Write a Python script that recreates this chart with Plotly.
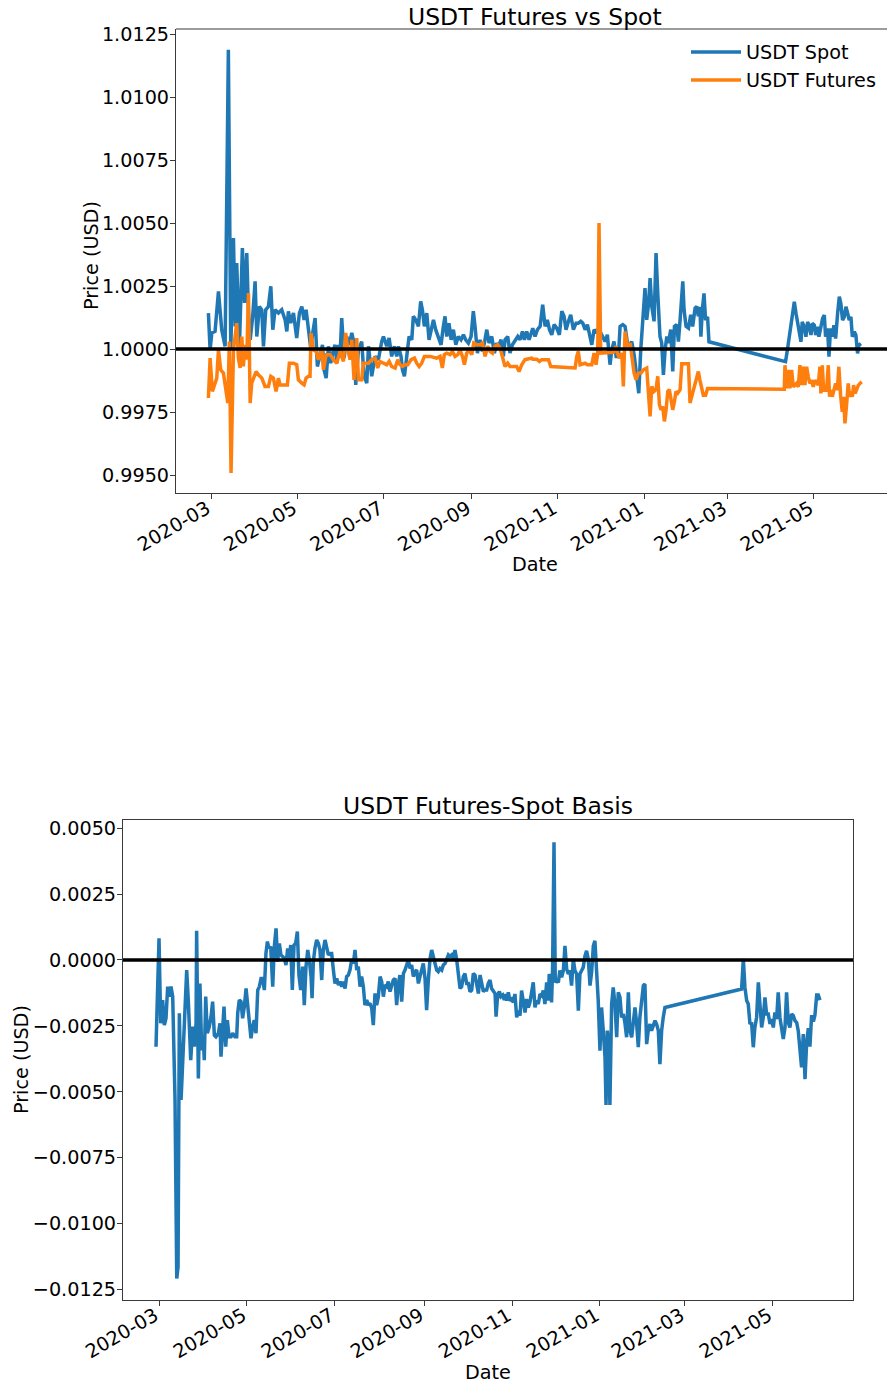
import pandas as pd
import plotly.graph_objects as go

# ---------------- data (day offset from 2020-03-01, value) ----------------
BASE_DATE = "2020-03-01"

spot = [
(-1.9,1.00143),(-0.7,0.99997),(0.5,1.00064),(2.8,1.00070),(5.2,1.00229),(7.5,1.00077),(9.9,1.00011),(12.2,1.01188),
(13.9,0.99997),(15.8,1.00441),(17.0,1.00090),(18.1,1.00341),(20.0,1.00011),(22.1,1.00401),(23.6,1.00183),(25.2,1.00381),
(26.4,1.00143),(27.6,1.00037),(29.4,1.00130),(31.1,1.00269),(32.3,1.00050),(34.1,1.00169),(35.8,1.00156),(37.0,1.00011),
(38.6,1.00156),(40.5,1.00169),(42.2,1.00249),(43.6,1.00077),(45.2,1.00156),(47.6,1.00143),(49.9,1.00156),(52.3,1.00116),
(53.5,1.00070),(54.6,1.00150),(56.3,1.00103),(58.2,1.00143),(60.5,1.00044),(62.4,1.00143),(64.1,1.00169),(65.7,1.00116),
(67.1,1.00156),(68.8,1.00064),(70.4,1.00004),(71.8,1.00064),(73.5,1.00123),(75.1,0.99931),(77.0,0.99984),(78.7,1.00017),
(79.8,0.99918),(81.3,0.99885),(82.9,1.00011),(84.5,0.99944),(86.4,0.99997),(87.6,1.00017),(88.8,0.99944),(90.0,1.00017),
(91.1,0.99971),(92.3,1.00123),(94.0,0.99964),(95.8,1.00050),(97.7,1.00017),(99.4,1.00064),(101.0,1.00024),(102.2,0.99858),
(104.1,0.99997),(106.4,1.00030),(108.1,0.99892),(110.0,0.99865),(111.2,1.00011),(113.5,0.99892),(115.9,0.99971),(118.2,0.99958),
(120.6,1.00030),(121.8,1.00050),(124.1,1.00011),(125.8,1.00044),(127.6,0.99971),(129.5,1.00011),(131.2,0.99971),(132.4,1.00011),
(134.2,0.99971),(135.2,0.99918),(136.6,0.99892),(138.2,0.99971),(139.9,1.00050),(141.8,1.00037),(142.9,1.00130),(144.6,1.00116),
(146.5,1.00090),(148.1,1.00189),(149.3,1.00156),(150.7,1.00090),(152.4,1.00143),(154.0,1.00037),(155.4,1.00077),(157.1,1.00116),
(158.7,1.00077),(160.6,1.00050),(162.5,1.00017),(164.1,1.00090),(165.3,1.00130),(166.5,1.00050),(168.1,1.00103),(169.6,1.00037),
(171.2,1.00077),(172.9,1.00017),(174.7,1.00050),(176.6,1.00037),(178.3,1.00057),(179.9,1.00037),(181.8,1.00024),(183.7,1.00050),
(185.3,1.00150),(186.5,1.00090),(188.2,0.99984),(190.0,1.00037),(191.7,0.99991),(193.1,1.00024),(194.8,1.00077),(196.4,1.00024),
(198.3,1.00050),(200.2,0.99984),(201.8,1.00024),(203.0,1.00011),(204.9,1.00037),(206.5,0.99971),(207.7,1.00037),(209.6,1.00050),
(211.2,0.99984),(212.9,1.00017),(214.8,1.00037),(216.7,1.00050),(218.3,1.00037),(220.0,1.00070),(221.4,1.00037),(223.0,1.00070),
(224.7,1.00037),(226.5,1.00077),(227.3,1.00083),(228.9,1.00050),(230.6,1.00077),(232.5,1.00090),(234.3,1.00176),(236.0,1.00090),
(237.6,1.00116),(239.1,1.00077),(240.7,1.00057),(242.4,1.00097),(244.2,1.00083),(246.1,1.00057),(247.8,1.00150),(249.4,1.00130),
(250.8,1.00077),(252.5,1.00110),(254.1,1.00136),(256.0,1.00077),(257.9,1.00103),(259.5,1.00103),(261.2,1.00110),(262.6,1.00103),
(264.3,1.00077),(265.9,1.00097),(267.3,1.00064),(269.0,1.00017),(270.6,1.00077),(272.5,1.00064),(273.7,1.00083),(275.3,1.00064),
(276.7,1.00050),(278.4,1.00030),(280.0,1.00057),(281.9,0.99938),(283.1,0.99997),(284.7,1.00030),(286.2,0.99971),(287.8,0.99971),
(289.0,1.00090),(290.9,1.00097),(292.5,1.00090),(294.2,1.00024),(295.6,1.00011),(297.2,1.00030),(298.9,0.99978),(300.8,0.99885),
(302.2,0.99825),(303.6,0.99997),(305.0,1.00103),(306.6,1.00242),(307.8,1.00116),(309.2,1.00183),(310.2,1.00282),(311.4,1.00169),
(313.0,1.00110),(314.4,1.00381),(315.6,1.00222),(317.2,1.00050),(318.4,1.00024),(319.6,0.99898),(320.8,0.99997),(322.0,1.00050),
(323.1,1.00024),(324.8,1.00077),(326.2,0.99911),(327.4,1.00090),(329.0,1.00097),(330.2,1.00030),(331.4,1.00116),(333.3,1.00269),
(334.2,1.00156),(335.6,1.00090),(337.3,1.00083),(338.9,1.00136),(340.3,1.00090),(342.0,1.00163),(343.2,1.00169),(344.3,1.00130),
(345.4,1.00168),(346.1,1.00049),(347.1,1.00155),(348.3,1.00221),(349.4,1.00115),(350.8,1.00128),(351.8,1.00029),(405.9,0.99950),
(407.4,1.00003),(409.0,1.00075),(410.7,1.00128),(412.1,1.00188),(413.3,1.00142),(414.4,1.00108),(415.4,1.00062),(416.8,1.00029),
(417.7,1.00108),(419.1,1.00089),(420.3,1.00049),(421.5,1.00108),(422.4,1.00095),(423.9,1.00056),(424.8,1.00102),(426.2,1.00095),
(427.2,1.00056),(428.6,1.00089),(429.5,1.00049),(430.9,1.00095),(432.1,1.00122),(433.3,1.00135),(434.2,1.00049),(435.6,1.00082),
(436.6,0.99970),(437.7,1.00082),(438.9,1.00049),(440.1,1.00095),(441.3,1.00042),(442.7,1.00142),(443.9,1.00208),(445.0,1.00181),
(446.2,1.00115),(447.4,1.00128),(448.6,1.00168),(449.8,1.00142),(450.9,1.00115),(452.1,1.00128),(453.1,1.00049),(454.5,1.00069),
(455.6,1.00056),(456.8,0.99983),(457.8,1.00016),(459.2,1.00022),
]

futures = [
(-1.9,0.99806),(-0.7,0.99964),(0.9,0.99832),(2.8,0.99865),(4.0,0.99885),(5.2,0.99997),(6.8,0.99918),(8.7,0.99905),
(10.6,0.99839),(11.8,0.99786),(12.9,1.00030),(14.1,0.99508),(15.8,0.99997),(18.1,1.00103),(19.3,0.99964),(20.5,0.99925),
(21.7,1.00050),(22.8,0.99931),(24.0,1.00017),(25.2,0.99958),(26.4,1.00222),(27.6,0.99786),(28.7,0.99865),(29.9,0.99885),
(31.8,0.99911),(33.4,0.99898),(35.8,0.99885),(38.1,0.99852),(40.5,0.99852),(42.2,0.99892),(44.0,0.99885),(45.9,0.99832),
(47.6,0.99885),(48.7,0.99858),(51.1,0.99858),(53.9,0.99858),(55.3,0.99944),(58.2,0.99944),(60.5,0.99938),(61.7,0.99878),
(64.1,0.99865),(65.7,0.99858),(67.1,0.99885),(68.8,0.99892),(69.9,0.99892),(70.6,1.00064),(72.3,0.99997),(74.2,0.99991),
(75.8,0.99958),(78.2,0.99997),(79.4,0.99918),(81.3,0.99978),(84.1,0.99978),(86.4,0.99958),(88.8,0.99944),(91.1,0.99991),
(93.5,0.99951),(95.1,1.00064),(96.6,0.99997),(98.2,0.99958),(99.4,1.00037),(101.0,0.99878),(102.9,1.00044),(104.1,0.99878),
(106.4,0.99878),(107.6,0.99944),(110.0,0.99944),(111.2,0.99944),(113.5,0.99958),(115.9,0.99964),(117.7,0.99925),(119.4,0.99951),
(121.8,0.99944),(124.1,0.99938),(125.8,0.99951),(127.6,0.99931),(130.0,0.99925),(131.9,0.99958),(133.5,0.99938),(135.2,0.99931),
(137.1,0.99938),(138.9,0.99938),(141.3,0.99958),(143.7,0.99964),(145.3,0.99944),(147.0,0.99931),(148.8,0.99944),(150.7,0.99971),
(154.7,0.99971),(159.4,0.99964),(161.8,0.99971),(163.4,0.99925),(164.8,0.99978),(166.5,0.99984),(168.9,0.99978),(170.5,0.99991),
(172.4,0.99971),(174.3,0.99978),(175.9,0.99997),(177.6,0.99971),(179.0,0.99938),(180.6,0.99984),(182.3,0.99997),(184.2,0.99978),
(185.6,1.00024),(187.7,1.00017),(190.0,1.00017),(191.7,1.00024),(193.6,0.99971),(195.5,1.00011),(197.1,0.99991),(198.8,0.99984),
(200.6,1.00011),(202.5,1.00017),(204.2,1.00004),(205.4,0.99978),(206.5,0.99951),(207.7,0.99931),(209.6,0.99944),(211.2,0.99931),
(215.9,0.99931),(217.6,0.99911),(219.5,0.99938),(221.8,0.99958),(226.5,0.99964),(227.3,0.99960),(230.1,0.99960),(232.0,0.99951),
(233.6,0.99958),(238.4,0.99958),(240.0,0.99931),(257.2,0.99925),(258.4,0.99971),(259.5,0.99991),(260.7,0.99938),(264.3,0.99944),
(265.9,0.99938),(269.0,0.99938),(270.6,0.99984),(272.0,0.99938),(273.2,0.99984),(274.1,1.00500),(275.3,0.99984),(284.3,0.99987),
(286.2,1.00011),(287.1,0.99984),(288.5,0.99964),(290.2,0.99984),(291.3,0.99852),(292.5,1.00070),(293.7,1.00030),(294.9,0.99997),
(296.1,1.00024),(297.2,0.99984),(298.9,0.99905),(300.3,0.99878),(301.9,0.99905),(303.8,0.99905),(305.5,0.99918),(307.8,0.99925),
(309.0,0.99832),(310.2,0.99733),(311.4,0.99852),(313.0,0.99832),(314.4,0.99839),(315.6,0.99892),(316.8,0.99779),(317.9,0.99759),
(319.1,0.99772),(320.3,0.99713),(321.5,0.99759),(322.7,0.99832),(323.8,0.99839),(325.0,0.99799),(326.2,0.99759),(327.4,0.99792),
(328.5,0.99832),(329.7,0.99825),(331.4,0.99839),(332.6,0.99942),(337.3,0.99942),(338.4,0.99786),(339.6,0.99812),(340.8,0.99832),
(342.0,0.99858),(344.3,0.99911),(345.4,0.99877),(346.6,0.99837),(347.8,0.99817),(349.4,0.99817),(350.8,0.99844),(405.0,0.99841),
(405.5,0.99936),(406.7,0.99844),(407.8,0.99917),(409.0,0.99844),(410.2,0.99917),(411.4,0.99850),(413.7,0.99864),(414.9,0.99850),
(416.1,0.99936),(417.3,0.99857),(418.4,0.99930),(419.6,0.99857),(420.8,0.99930),(422.0,0.99890),(423.1,0.99864),(424.3,0.99877),
(425.5,0.99850),(426.7,0.99877),(429.0,0.99857),(430.2,0.99930),(430.9,0.99824),(431.9,0.99936),(432.8,0.99837),(434.9,0.99837),
(436.1,0.99936),(437.0,0.99811),(438.0,0.99837),(438.9,0.99811),(440.3,0.99837),(441.3,0.99864),(442.5,0.99837),(443.6,0.99930),
(444.8,0.99817),(446.0,0.99751),(446.9,0.99811),(447.9,0.99705),(449.1,0.99784),(450.2,0.99864),(451.2,0.99811),(452.1,0.99831),
(453.1,0.99811),(454.0,0.99857),(455.1,0.99824),(456.2,0.99844),(457.4,0.99857),(459.7,0.99870),
]

basis = [
(-2.1,-0.00329),(0.0,0.00082),(1.15,-0.00240),(2.5,-0.00152),(3.7,-0.00247),(4.85,-0.00221),(6.0,-0.00101),(7.2,-0.00139),
(8.3,-0.00101),(9.5,-0.00139),(11.1,-0.00531),(12.3,-0.01208),(13.2,-0.01164),(14.1,-0.00202),(15.3,-0.00531),(16.4,-0.00380),
(17.8,-0.00215),(19.2,-0.00038),(20.3,-0.00152),(22.0,-0.00380),(23.4,-0.00253),(24.5,-0.00329),(25.7,-0.00240),(26.1,0.00111),
(27.3,-0.00449),(28.4,-0.00089),(29.6,-0.00342),(30.8,-0.00304),(31.4,-0.00380),(32.4,-0.00139),(33.5,-0.00278),(34.9,-0.00253),
(36.1,-0.00215),(37.2,-0.00158),(38.4,-0.00285),(39.5,-0.00291),(41.2,-0.00278),(42.3,-0.00240),(43.0,-0.00367),(44.2,-0.00253),
(45.1,-0.00177),(46.3,-0.00329),(47.4,-0.00228),(48.6,-0.00291),(50.0,-0.00291),(51.1,-0.00278),(52.7,-0.00291),(53.9,-0.00291),
(54.6,-0.00202),(55.7,-0.00152),(56.9,-0.00158),(58.0,-0.00221),(59.2,-0.00177),(60.4,-0.00108),(61.5,-0.00164),(62.7,-0.00228),
(63.8,-0.00297),(65.0,-0.00253),(66.1,-0.00228),(67.3,-0.00278),(68.5,-0.00114),(69.6,-0.00101),(70.8,-0.00070),(71.9,-0.00070),
(73.1,-0.00114),(74.2,0.00025),(75.2,0.00070),(76.3,0.00044),(77.5,0.00051),(78.9,-0.00101),(80.0,0.00051),(81.2,0.00120),
(82.3,-0.00006),(83.5,0.00063),(84.6,0.00019),(85.8,0.00013),(87.0,0.00006),(88.1,-0.00019),(89.3,0.00044),(90.4,0.00000),
(91.4,0.00057),(92.5,-0.00114),(93.7,0.00057),(94.8,0.00063),(96.0,0.00108),(97.1,-0.00057),(98.3,-0.00114),(99.7,-0.00025),
(100.8,-0.00171),(102.0,-0.00025),(103.2,0.00038),(104.3,0.00000),(105.5,-0.00063),(106.2,-0.00145),(107.1,-0.00006),(108.2,0.00044),
(109.4,0.00076),(110.6,0.00063),(111.7,0.00038),(112.9,-0.00076),(114.0,0.00038),(115.2,0.00076),(116.3,0.00051),(117.5,0.00019),
(118.6,0.00025),(119.8,0.00025),(121.0,-0.00038),(122.1,-0.00089),(123.3,-0.00070),(124.5,-0.00095),(125.6,-0.00082),(126.8,-0.00101),
(127.9,-0.00082),(129.1,-0.00108),(130.2,-0.00063),(131.4,-0.00057),(132.5,-0.00038),(133.7,0.00000),(134.9,-0.00013),(136.0,0.00038),
(137.2,-0.00038),(138.3,-0.00025),(139.5,-0.00101),(140.6,-0.00063),(141.8,-0.00101),(142.9,-0.00171),(144.1,-0.00152),(145.3,-0.00171),
(146.4,-0.00164),(147.6,-0.00183),(148.7,-0.00247),(149.9,-0.00127),(151.0,-0.00171),(152.2,-0.00139),(153.4,-0.00063),(154.5,-0.00082),
(155.7,-0.00139),(156.8,-0.00095),(158.0,-0.00101),(159.1,-0.00082),(160.3,-0.00120),(161.5,-0.00089),(162.6,-0.00076),(163.8,-0.00070),
(164.9,-0.00171),(166.1,-0.00089),(167.2,-0.00057),(168.4,-0.00158),(169.6,-0.00051),(170.7,-0.00038),(171.9,-0.00013),(173.0,0.00000),
(174.2,-0.00032),(175.3,-0.00019),(176.5,-0.00063),(177.7,-0.00044),(178.8,-0.00038),(180.0,-0.00089),(181.1,-0.00063),(182.3,-0.00032),
(183.4,-0.00013),(184.6,-0.00070),(185.7,-0.00190),(186.9,-0.00076),(188.1,0.00006),(189.2,0.00038),(190.4,0.00013),(191.5,-0.00006),
(192.7,-0.00038),(193.8,-0.00044),(195.0,-0.00032),(196.2,-0.00038),(197.3,-0.00019),(198.5,-0.00013),(199.6,0.00000),(200.8,0.00019),
(201.9,0.00013),(203.1,0.00019),(204.2,0.00006),(205.4,0.00038),(206.6,0.00000),(207.7,-0.00070),(208.9,-0.00108),(210.0,-0.00101),
(211.2,-0.00063),(212.3,-0.00051),(213.5,-0.00089),(214.7,-0.00089),(215.8,-0.00120),(217.0,-0.00114),(218.1,-0.00051),(219.3,-0.00057),
(220.4,-0.00089),(221.6,-0.00127),(222.8,-0.00057),(223.9,-0.00089),(225.1,-0.00120),(226.2,-0.00114),(227.4,-0.00114),(228.5,-0.00089),
(229.7,-0.00076),(230.8,-0.00108),(232.0,-0.00120),(233.2,-0.00127),(233.9,-0.00215),(235.0,-0.00133),(236.2,-0.00120),(237.3,-0.00139),
(238.5,-0.00133),(239.6,-0.00152),(240.1,-0.00129),(241.2,-0.00154),(242.4,-0.00123),(243.5,-0.00154),(244.7,-0.00148),(245.9,-0.00161),
(247.0,-0.00129),(248.2,-0.00218),(249.3,-0.00192),(250.5,-0.00211),(251.6,-0.00116),(252.8,-0.00167),(254.0,-0.00199),(255.1,-0.00148),
(256.3,-0.00180),(257.4,-0.00161),(258.6,-0.00110),(259.7,-0.00085),(260.9,-0.00180),(262.0,-0.00154),(263.2,-0.00167),(264.4,-0.00129),
(265.5,-0.00135),(266.7,-0.00116),(267.8,-0.00167),(269.0,-0.00085),(270.1,-0.00154),(270.8,-0.00053),(271.8,-0.00078),(272.4,-0.00161),
(273.1,-0.00040),(274.1,0.00447),(275.0,-0.00085),(275.9,-0.00078),(277.1,-0.00085),(278.2,-0.00040),(279.4,-0.00066),(280.6,-0.00040),
(281.7,0.00054),(282.9,-0.00034),(284.0,-0.00053),(285.2,-0.00040),(286.3,-0.00097),(287.5,0.00004),(288.6,-0.00040),(289.8,-0.00053),
(291.0,-0.00192),(292.1,-0.00053),(293.3,-0.00040),(294.4,-0.00028),(295.6,0.00016),(296.7,0.00035),(297.9,0.00004),(299.1,-0.00097),
(300.2,-0.00047),(301.4,0.00054),(302.5,0.00073),(303.7,-0.00040),(304.8,-0.00154),(306.0,-0.00344),(307.1,-0.00180),(308.3,-0.00268),
(309.5,-0.00369),(310.2,-0.00550),(311.1,-0.00268),(312.0,-0.00319),(312.9,-0.00550),(314.1,-0.00167),(315.2,-0.00104),(316.4,-0.00167),
(317.6,-0.00293),(318.7,-0.00123),(319.9,-0.00142),(321.0,-0.00218),(322.2,-0.00205),(323.3,-0.00237),(324.5,-0.00293),(325.7,-0.00123),
(326.8,-0.00268),(328.0,-0.00293),(329.1,-0.00230),(330.3,-0.00180),(331.4,-0.00237),(332.6,-0.00331),(333.7,-0.00218),(334.9,-0.00167),
(336.1,-0.00097),(337.2,-0.00091),(338.4,-0.00319),(339.5,-0.00268),(340.7,-0.00243),(341.8,-0.00268),(343.0,-0.00243),(344.2,-0.00230),
(345.3,-0.00243),(346.5,-0.00268),(347.6,-0.00395),(348.8,-0.00268),(349.9,-0.00218),(351.1,-0.00180),(404.3,-0.00110),(405.5,0.00004),
(406.6,-0.00104),(407.8,-0.00154),(408.9,-0.00167),(410.1,-0.00243),(411.2,-0.00237),(412.4,-0.00331),(413.5,-0.00256),(414.7,-0.00218),
(415.9,-0.00085),(417.0,-0.00192),(418.2,-0.00256),(419.3,-0.00218),(420.5,-0.00142),(421.6,-0.00205),(422.8,-0.00205),(424.0,-0.00243),
(425.1,-0.00224),(426.3,-0.00256),(427.4,-0.00199),(428.6,-0.00224),(429.7,-0.00123),(430.9,-0.00218),(432.1,-0.00256),(433.2,-0.00300),
(434.4,-0.00256),(435.5,-0.00123),(436.7,-0.00237),(437.8,-0.00256),(439.0,-0.00205),(440.2,-0.00211),(441.3,-0.00230),(442.5,-0.00237),
(443.6,-0.00268),(444.8,-0.00331),(445.9,-0.00407),(447.1,-0.00281),(448.3,-0.00452),(449.4,-0.00316),(450.6,-0.00259),(451.7,-0.00329),
(452.9,-0.00209),(454.1,-0.00234),(455.2,-0.00209),(456.4,-0.00133),(457.5,-0.00133),(458.7,-0.00152),
]

month_ticks = ["2020-03-01", "2020-05-01", "2020-07-01", "2020-09-01", "2020-11-01",
               "2021-01-01", "2021-03-01", "2021-05-01"]
month_labels = ["2020-03", "2020-05", "2020-07", "2020-09", "2020-11",
                "2021-01", "2021-03", "2021-05"]
top_yticks = [0.9950, 0.9975, 1.0000, 1.0025, 1.0050, 1.0075, 1.0100, 1.0125]
top_ylabels = ["0.9950", "0.9975", "1.0000", "1.0025", "1.0050", "1.0075", "1.0100", "1.0125"]
bot_yticks = [-0.0125, -0.0100, -0.0075, -0.0050, -0.0025, 0.0, 0.0025, 0.0050]
bot_ylabels = ["\u22120.0125", "\u22120.0100", "\u22120.0075", "\u22120.0050", "\u22120.0025",
               "0.0000", "0.0025", "0.0050"]

# ---------------- helpers ----------------
base = pd.Timestamp(BASE_DATE)


def dates(days):
    return [base + pd.Timedelta(days=d) for d in days]


def split(series):
    d, v = zip(*series)
    return dates(d), list(v)


W, H = 887, 1386
FS = 19.2
TFS = 23.5
FONT = "DejaVu Sans"
BLUE, ORANGE = "#1f77b4", "#ff7f0e"
SPINE = "#3a3a3a"
LW = 3.5

sx, sy = split(spot)
fx, fy = split(futures)
bx, by = split(basis)

fig = go.Figure()
fig.add_trace(go.Scatter(x=sx, y=sy, mode="lines", name="USDT Spot",
                         line=dict(color=BLUE, width=LW), xaxis="x", yaxis="y"))
fig.add_trace(go.Scatter(x=fx, y=fy, mode="lines", name="USDT Futures",
                         line=dict(color=ORANGE, width=LW), xaxis="x", yaxis="y"))
fig.add_trace(go.Scatter(x=bx, y=by, mode="lines", name="Basis", showlegend=False,
                         line=dict(color=BLUE, width=LW), xaxis="x2", yaxis="y2"))


def px_x(p):
    return p / W


def px_y(p):
    return 1 - p / H


top_l, top_r, top_t, top_b = 176, 887, 29, 493
bot_l, bot_r, bot_t, bot_b = 123, 853, 819.7, 1300

axis_common = dict(showgrid=False, zeroline=False, ticks="outside", ticklen=5,
                   tickwidth=1, tickcolor=SPINE, showline=True, linecolor=SPINE,
                   linewidth=1.2, automargin=False,
                   tickfont=dict(size=FS, color="black", family=FONT))
xtick_extra = dict(tickvals=month_ticks, ticktext=month_labels, tickangle=-30,
                   ticklabelstandoff=-9, ticklabelshift=-4)
ytick_extra = dict(ticklabelstandoff=-3)

fig.update_layout(
    width=W, height=H,
    margin=dict(l=0, r=0, t=0, b=0, autoexpand=False),
    paper_bgcolor="white", plot_bgcolor="white",
    font=dict(family=FONT, size=FS, color="black"),
    xaxis=dict(domain=[px_x(top_l), px_x(top_r)], anchor="y",
               range=[base + pd.Timedelta(days=-24.8), base + pd.Timedelta(days=477.6)],
               mirror=False, **xtick_extra, **axis_common),
    yaxis=dict(domain=[px_y(top_b), px_y(top_t)], anchor="x",
               range=[0.99429, 1.01270], tickvals=top_yticks, ticktext=top_ylabels,
               mirror=False, **ytick_extra, **axis_common),
    xaxis2=dict(domain=[px_x(bot_l), px_x(bot_r)], anchor="y2",
                range=[base + pd.Timedelta(days=-25.0), base + pd.Timedelta(days=481.6)],
                mirror=True, **xtick_extra, **axis_common),
    yaxis2=dict(domain=[px_y(bot_b), px_y(bot_t)], anchor="x2",
                range=[-0.012898, 0.005322], tickvals=bot_yticks, ticktext=bot_ylabels,
                mirror=True, **ytick_extra, **axis_common),
    legend=dict(x=px_x(686), y=px_y(33), xanchor="left", yanchor="top",
                bgcolor="rgba(0,0,0,0)", font=dict(size=FS, family=FONT, color="black"),
                tracegroupgap=0, itemwidth=50),
    showlegend=True,
)

shapes = [
    # top spine of upper axes (right spine lies outside the picture)
    dict(type="line", xref="x domain", yref="y domain", x0=0, x1=1, y0=1, y1=1,
         line=dict(color=SPINE, width=1.2), layer="above"),
    # horizontal reference lines
    dict(type="line", xref="x domain", yref="y", x0=0, x1=1, y0=1.0, y1=1.0,
         line=dict(color="black", width=3.5), layer="above"),
    dict(type="line", xref="x2 domain", yref="y2", x0=0, x1=1, y0=0.0, y1=0.0,
         line=dict(color="black", width=3.5), layer="above"),
]
fig.update_layout(shapes=shapes)

annotations = [
    dict(text="USDT Futures vs Spot", x=px_x(535), y=px_y(17), xref="paper", yref="paper",
         xanchor="center", yanchor="middle", showarrow=False, font=dict(size=TFS, family=FONT)),
    dict(text="USDT Futures-Spot Basis", x=px_x(488), y=px_y(806), xref="paper", yref="paper",
         xanchor="center", yanchor="middle", showarrow=False, font=dict(size=TFS, family=FONT)),
    dict(text="Price (USD)", x=px_x(91), y=px_y(256), xref="paper", yref="paper",
         xanchor="center", yanchor="middle", textangle=-90, showarrow=False,
         font=dict(size=FS, family=FONT)),
    dict(text="Price (USD)", x=px_x(21), y=px_y(1060), xref="paper", yref="paper",
         xanchor="center", yanchor="middle", textangle=-90, showarrow=False,
         font=dict(size=FS, family=FONT)),
    dict(text="Date", x=px_x(535), y=px_y(564), xref="paper", yref="paper",
         xanchor="center", yanchor="middle", showarrow=False, font=dict(size=FS, family=FONT)),
    dict(text="Date", x=px_x(488), y=px_y(1372), xref="paper", yref="paper",
         xanchor="center", yanchor="middle", showarrow=False, font=dict(size=FS, family=FONT)),
]
fig.update_layout(annotations=annotations)

fig.write_html("out.html", config={"displayModeBar": False},
               post_script="document.body.style.margin='0';document.body.style.overflow='hidden';")
